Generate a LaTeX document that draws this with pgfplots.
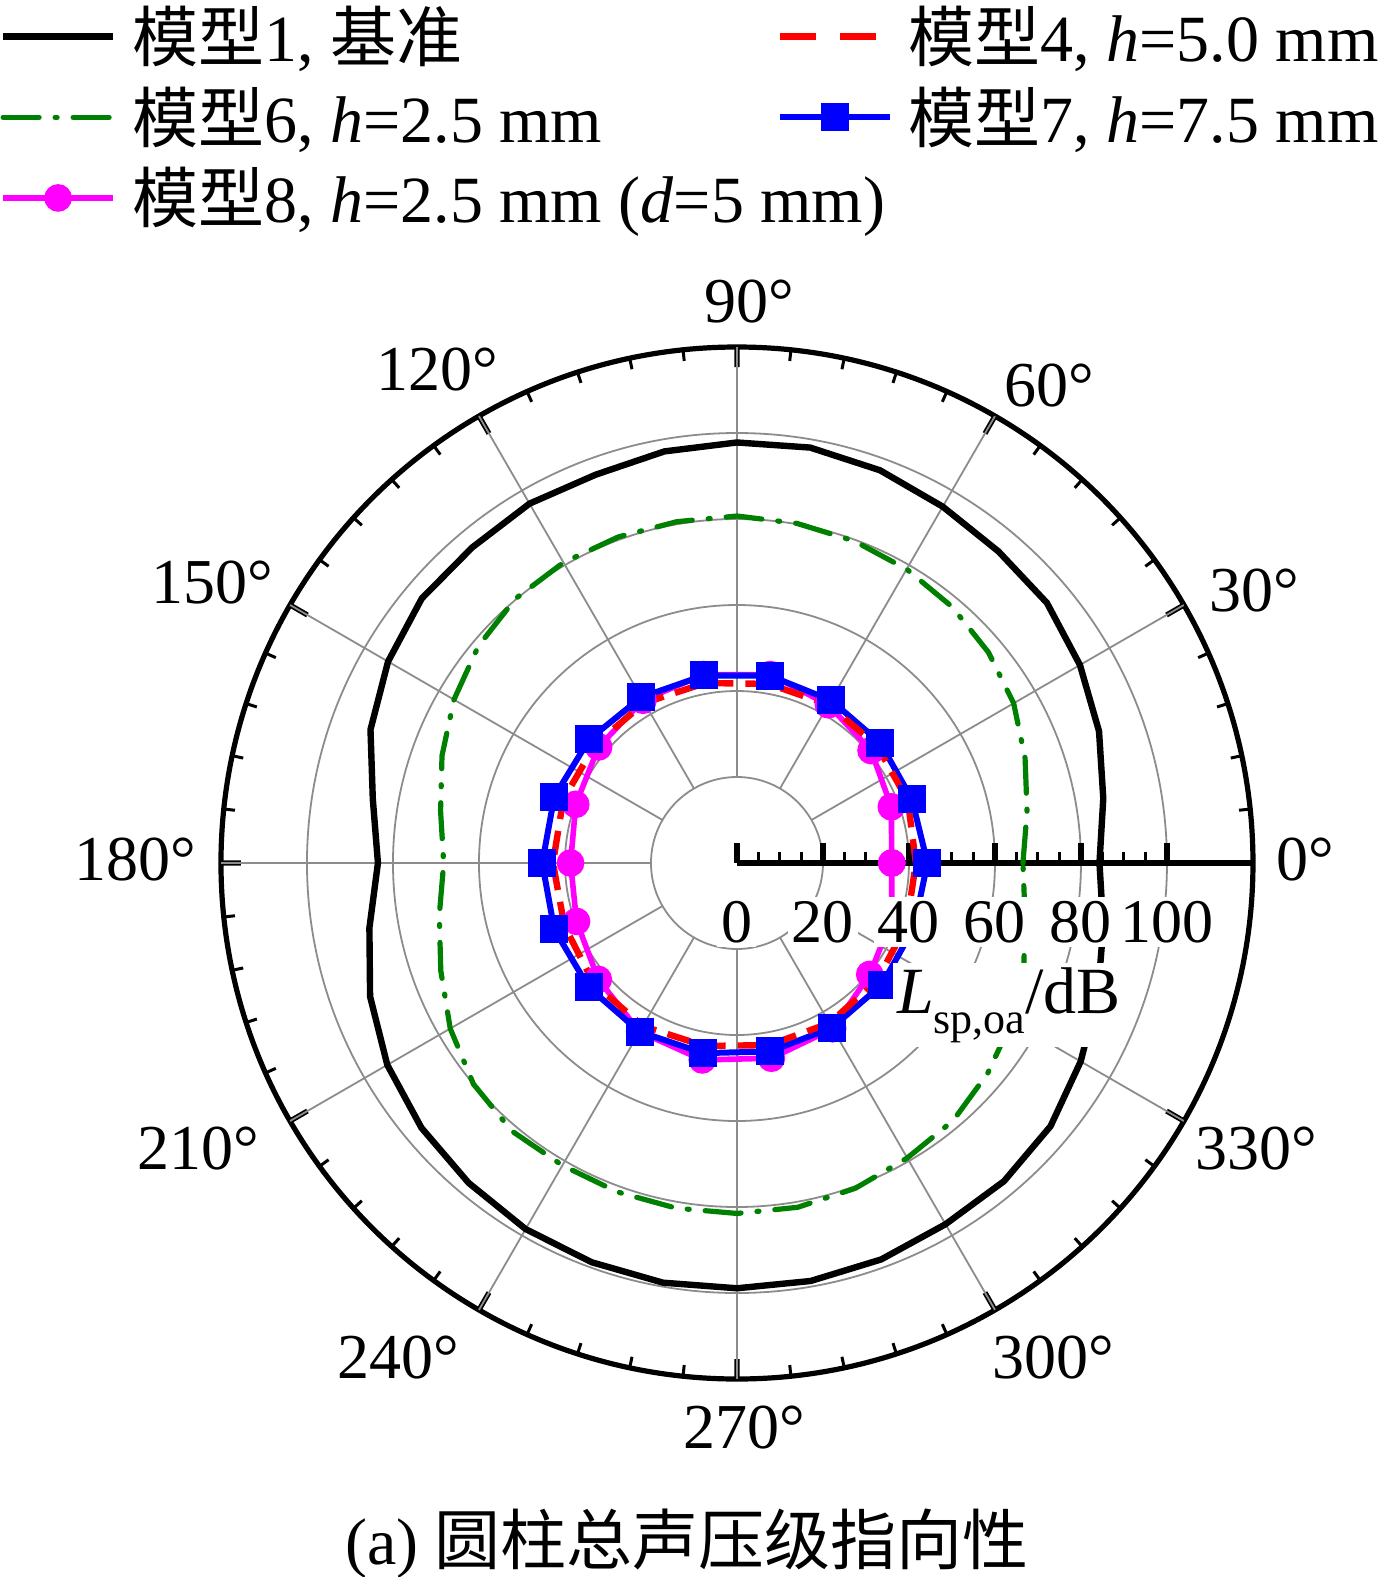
\documentclass[border=0pt]{standalone}
\usepackage{fontspec}
\setmainfont{Liberation Serif}
\newfontfamily\cjk{Noto Sans CJK SC}
\usepackage{pgfplots}
\usepgfplotslibrary{polar}
\pgfplotsset{compat=1.18}
\newcommand\F{\fontsize{15.5}{18.6}\selectfont}
\newcommand\FL{\fontsize{16.5}{19.8}\selectfont}
\newcommand\FA{\fontsize{16}{19.2}\selectfont}
\definecolor{dgreen}{RGB}{0,128,0}
\definecolor{mag}{RGB}{255,0,255}

\begin{document}
\begin{tikzpicture}[font=\F]
\path[use as bounding box] (-183.25pt,-180pt) rectangle (163.25pt,214.25pt);
\begin{polaraxis}[
  at={(1pt,-1.5pt)}, anchor=center,
  width=258pt, height=258pt, scale only axis,
  xmin=0, xmax=360, ymin=0, ymax=120,
  xtick={0,30,...,330},
  minor x tick num=4,
  ytick={0,20,...,100},
  minor y tick num=3,
  xticklabel={\mbox{}},
  yticklabel={\mbox{}},
  ytick pos=left,
  xmajorgrids=false, ymajorgrids=true,
  xminorgrids=false, yminorgrids=false,
  major grid style={line width=0.45pt, black!45},
  axis line style={line width=1.3pt},
  major tick length=5pt, minor tick length=2.8pt,
  every major tick/.append style={line width=1.3pt, black},
  every minor tick/.append style={line width=0.75pt, black},
  tick align=outside,
  legend columns=2,
  legend style={draw=none, fill=none, inner sep=0pt,
    at={(axis description cs:-0.215,1.339)}, anchor=north west,
    cells={anchor=west}, row sep=0.8pt, font=\FL,
    /tikz/every odd column/.append style={column sep=2pt},
    /tikz/every even column/.append style={column sep=0pt}},
  legend image code/.code={\draw[mark repeat=2,mark phase=2,#1] plot coordinates {(0pt,0pt) (13.75pt,0pt) (27.5pt,0pt)};},
]
\coordinate (O) at (axis cs:0,0);
\pgfplotsinvokeforeach{30,60,90,120,150,180,210,240,270,300,330}{
  \draw[line width=0.45pt, black!45] (axis cs:#1,20) -- (axis cs:#1,120);
}
% legend images
\addlegendimage{black, line width=1.6pt}
\addlegendentry{\makebox[159pt][l]{{\cjk 模型}1, {\cjk 基准}}}
\addlegendimage{red, line width=1.6pt, dash pattern=on 9pt off 6pt}
\addlegendentry{{\cjk 模型}4, \textit{h}=5.0 mm}
\addlegendimage{dgreen, line width=1.3pt, line cap=round, dash pattern=on 9pt off 4pt on 0.5pt off 4pt}
\addlegendentry{\makebox[159pt][l]{{\cjk 模型}6, \textit{h}=2.5 mm}}
\addlegendimage{blue, line width=1.5pt, mark=square*, mark size=2.75pt}
\addlegendentry{{\cjk 模型}7, \textit{h}=7.5 mm}
\addlegendimage{mag, line width=1.4pt, mark=*, mark size=2.75pt}
\addlegendentry{\rlap{{\cjk 模型}8, \textit{h}=2.5 mm (\textit{d}=5 mm)}}

% model 1
\addplot[black, line width=1.6pt, forget plot] coordinates {
(0,84.3) (10,86.5) (20,89.6) (30,92.1) (40,94.1) (50,94.6) (60,95.7) (70,97.2) (80,98.1) (90,97.8)
(100,97.2) (110,96.1) (120,96.5) (130,95.8) (140,95.7) (150,93.7) (160,90.7) (170,86.0) (180,83.5)
(190,86.8) (200,90.8) (210,93.9) (220,95.8) (230,97.1) (240,98.3) (250,98.8) (260,99.1) (270,98.9)
(280,98.7) (290,98.1) (300,97.0) (310,96.6) (320,95.2) (330,92.3) (340,89.3) (350,86.5) (360,84.3)};
% model 6
\addplot[dgreen, line width=1.3pt, line cap=round, dash pattern=on 9pt off 4pt on 0.5pt off 4pt, forget plot] coordinates {
(0,66.5) (10,68.5) (20,71.3) (30,74.3) (40,76.3) (50,77.8) (60,78.9) (70,79.7) (80,80.2) (90,80.7)
(100,80.6) (110,80.7) (120,80.7) (130,80.2) (140,78.5) (150,76.0) (160,73.0) (170,70.0) (180,68.2)
(190,70.3) (200,73.3) (210,77.0) (220,80.0) (230,81.4) (240,81.2) (250,81.4) (260,81.5) (270,81.5)
(280,81.3) (290,80.5) (300,79.2) (310,78.2) (320,76.1) (330,73.8) (340,71.0) (350,68.0) (360,66.5)};
% model 8
\addplot[mag, line width=1.4pt, mark=*, mark size=2.75pt, forget plot] coordinates {
(0,36.0) (20,38.2) (40,40.7) (60,42.5) (80,44.5) (100,44.5) (120,43.7) (140,42.0) (160,39.9)
(180,38.7) (200,39.7) (220,42.1) (240,45.3) (260,46.5) (280,46.1) (300,44.5) (320,40.3) (340,38.3) (360,36.0)};
% model 7
\addplot[blue, line width=1.5pt, mark=square*, mark size=2.75pt, forget plot] coordinates {
(0,44.3) (20,43.3) (40,43.5) (60,43.7) (80,44.2) (100,44.3) (120,44.5) (140,44.8) (160,45.2)
(180,45.3) (200,45.2) (220,45.0) (240,45.3) (260,44.9) (280,44.5) (300,44.2) (320,44.0) (340,43.8) (360,44.3)};
% model 4
\addplot[red, line width=1.6pt, dash pattern=on 6pt off 3pt, forget plot] coordinates {
(0,41.6) (20,42.3) (40,42.5) (60,42.5) (80,42.3) (100,42.5) (120,43.0) (140,43.0) (160,43.0)
(180,42.8) (200,42.7) (220,43.5) (240,43.8) (260,43.2) (280,43.0) (300,43.0) (320,42.5) (340,42.0) (360,41.6)};
\end{polaraxis}
% radial tick labels (drawn over the curves, as in the reference)
\begin{scope}[shift={(O)}, every node/.style={fill=white, inner sep=1pt, font=\F}]
\node at (0pt,-14.75pt) {0};
\node at (21.5pt,-14.75pt) {20};
\node at (43pt,-14.75pt) {40};
\node at (64.5pt,-14.75pt) {60};
\node at (86pt,-14.75pt) {80};
\node at (107.5pt,-14.75pt) {100};
\end{scope}
\begin{scope}[shift={(O)}, every node/.style={font=\FA}]
\node at (3pt,140.25pt) {90°};
\node at (78pt,119.25pt) {60°};
\node at (129.25pt,68pt) {30°};
\node at (142pt,0.75pt) {0°};
\node at (129.75pt,-71.5pt) {330°};
\node at (79pt,-123.75pt) {300°};
\node at (1.75pt,-141.25pt) {270°};
\node at (-84.75pt,-123.75pt) {240°};
\node at (-134.75pt,-71.5pt) {210°};
\node at (-150.5pt,0.75pt) {180°};
\node at (-131.25pt,70pt) {150°};
\node at (-75pt,123.25pt) {120°};
\end{scope}
\node[fill=white, inner sep=1pt, font=\FL] at (69pt,-37pt) {\textit{L}\raisebox{-5pt}{\fontsize{11}{13}\selectfont sp,oa}/dB};
\node[font=\FL] at (-11.5pt,-171.75pt) {(a) {\cjk 圆柱总声压级指向性}};
\end{tikzpicture}
\end{document}
